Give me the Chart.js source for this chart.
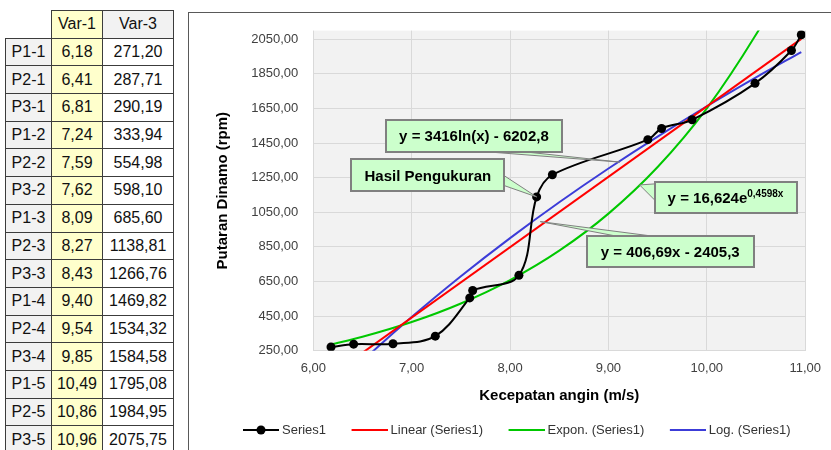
<!DOCTYPE html>
<html>
<head>
<meta charset="utf-8">
<script src="https://cdn.jsdelivr.net/npm/chart.js@4.4.0/dist/chart.umd.min.js"></script>
<style>
  html, body { margin: 0; padding: 0; background: #fff; overflow: hidden; }
  body { width: 831px; height: 450px; position: relative; font-family: "Liberation Sans", Arial, sans-serif; }
  #data-table { position: absolute; left: 5px; top: 10px; border-collapse: collapse; table-layout: fixed; width: 168px; font-size: 16px; color: #111; }
  #data-table th, #data-table td { border: 1px solid #3c3c3c; padding: 0; text-align: center; font-weight: normal; white-space: nowrap; }
  #data-table tr { height: 27.7px; }
  #data-table th.corner { border: none; background: #fff; }
  #data-table .lbl { background: #f2f2f2; }
  #data-table .v1 { background: #ffffcc; }
  #data-table .v3 { background: #fff; }
  #data-table th.v3 { background: #f2f2f2; }
  #chart-box { position: absolute; left: 188px; top: 12px; width: 700px; height: 500px; border: 1px solid #595959; }
  #chart-box canvas { position: absolute; left: 0; top: 0; }
</style>
</head>
<body>
<table id="data-table">
  <colgroup><col style="width:46px"><col style="width:51px"><col style="width:71px"></colgroup>
  <thead><tr><th class="corner"></th><th class="v1">Var-1</th><th class="v3">Var-3</th></tr></thead>
  <tbody id="rows"></tbody>
</table>
<div id="chart-box"><canvas id="chart" width="642" height="437"></canvas></div>
<script>
// measured points (table + Series1)
var rowLabels = ['P1-1', 'P2-1', 'P3-1', 'P1-2', 'P2-2', 'P3-2', 'P1-3', 'P2-3', 'P3-3', 'P1-4', 'P2-4', 'P3-4', 'P1-5', 'P2-5', 'P3-5'];
var windSpeed = [6.18, 6.41, 6.81, 7.24, 7.59, 7.62, 8.09, 8.27, 8.43, 9.40, 9.54, 9.85, 10.49, 10.86, 10.96];
var rpm = [271.20, 287.71, 290.19, 333.94, 554.98, 598.10, 685.60, 1138.81, 1266.76, 1469.82, 1534.32, 1584.58, 1795.08, 1984.95, 2075.75];

// trendlines
var linearX = [6.18, 10.96];
var linearY = [108.0, 2052.0];
var exponX = [6.18, 6.5, 7, 7.5, 8, 8.5, 9, 9.5, 10, 10.5, 10.7, 10.96];
var exponY = [285.0, 330.2, 415.5, 522.9, 658.0, 828.1, 1042.2, 1311.5, 1650.5, 2077.1, 2277.2, 2566.4];
var logX = [6.18, 6.5, 7, 7.5, 8, 8.5, 9, 9.5, 10, 10.5, 10.96];
var logY = [18.8, 191.3, 444.4, 680.1, 900.6, 1107.7, 1302.9, 1487.6, 1662.8, 1829.5, 1976.0];

var xTicks = [6, 7, 8, 9, 10, 11];
var yTicks = [250, 450, 650, 850, 1050, 1250, 1450, 1650, 1850, 2050];

var FONT = '"Liberation Sans", Arial, sans-serif';

function fmt(v) {
  return Number(v).toFixed(2).replace('.', ',');
}

function points(xs, ys) {
  return xs.map(function(x, i) { return {x: x, y: ys[i]}; });
}

// fill the table
var tbody = document.getElementById('rows');
rowLabels.forEach(function(lbl, i) {
  var tr = document.createElement('tr');
  tr.innerHTML = '<td class="lbl">' + lbl + '</td><td class="v1">' + fmt(windSpeed[i]) +
                 '</td><td class="v3">' + fmt(rpm[i]) + '</td>';
  tbody.appendChild(tr);
});

// legend symbols: short line (dot for the measured series), drawn off-centre
// so the gap between items sits inside the legend box
function legendIcon(color, withDot) {
  var c = document.createElement('canvas');
  c.width = 55; c.height = 10;
  var g = c.getContext('2d');
  g.strokeStyle = color; g.lineWidth = 2;
  g.beginPath(); g.moveTo(19, 5); g.lineTo(55, 5); g.stroke();
  if (withDot) {
    g.fillStyle = color;
    g.beginPath(); g.arc(37, 5, 4.5, 0, Math.PI * 2); g.fill();
  }
  return c;
}

// callout boxes (centre in data units, wedge base as offsets from centre)
var callouts = [
  {text: 'y = 3416ln(x) - 6202,8', x: 7.633, y: 1491, w: 176, h: 32, tip: [9.115, 1340], base: [[15, 16], [52, 16]]},
  {text: 'Hasil Pengukuran', x: 7.164, y: 1263, w: 153, h: 32, tip: [8.27, 1138.81], base: [[76, 0], [76, 10]]},
  {text: 'y = 16,624e', sup: '0,4598x', x: 10.19, y: 1133, w: 142, h: 31, tip: [9.317, 1208], base: [[-71, -14], [-71, 2]]},
  {text: 'y = 406,69x - 2405,3', x: 9.628, y: 823.5, w: 167, h: 31, tip: [8.307, 996], base: [[-52, -15], [-15, -15]]}
];

var plotBackground = {
  id: 'plotBackground',
  beforeDraw: function(chart) {
    var a = chart.chartArea, ctx = chart.ctx;
    ctx.save();
    ctx.fillStyle = '#f2f2f2';
    ctx.fillRect(a.left, a.top, a.right - a.left, a.bottom - a.top);
    ctx.restore();
  }
};

var calloutPlugin = {
  id: 'callouts',
  afterDatasetsDraw: function(chart) {
    var ctx = chart.ctx, xs = chart.scales.x, ys = chart.scales.y;
    callouts.forEach(function(c) {
      var cx = xs.getPixelForValue(c.x), cy = ys.getPixelForValue(c.y);
      var tx = xs.getPixelForValue(c.tip[0]), ty = ys.getPixelForValue(c.tip[1]);
      ctx.save();
      // wedge
      ctx.beginPath();
      ctx.moveTo(cx + c.base[0][0], cy + c.base[0][1]);
      ctx.lineTo(tx, ty);
      ctx.lineTo(cx + c.base[1][0], cy + c.base[1][1]);
      ctx.closePath();
      ctx.fillStyle = '#ccffcc';
      ctx.fill();
      ctx.strokeStyle = '#808080';
      ctx.lineWidth = 1;
      ctx.stroke();
      // box
      var l = Math.round(cx - c.w / 2), t = Math.round(cy - c.h / 2);
      ctx.fillStyle = '#ccffcc';
      ctx.fillRect(l, t, c.w, c.h);
      ctx.lineWidth = 2;
      ctx.strokeRect(l, t, c.w, c.h);
      // text
      ctx.fillStyle = '#000';
      ctx.textBaseline = 'middle';
      ctx.font = 'bold 15px ' + FONT;
      if (c.sup) {
        var w1 = ctx.measureText(c.text).width;
        ctx.font = 'bold 10px ' + FONT;
        var w2 = ctx.measureText(c.sup).width;
        var sx = cx - (w1 + w2) / 2;
        ctx.textAlign = 'left';
        ctx.font = 'bold 15px ' + FONT;
        ctx.fillText(c.text, sx, cy + 1);
        ctx.font = 'bold 10px ' + FONT;
        ctx.fillText(c.sup, sx + w1, cy - 4);
      } else {
        ctx.textAlign = 'center';
        ctx.fillText(c.text, cx, cy + 1);
      }
      ctx.restore();
    });
  }
};

var trendStyle = {showLine: true, borderWidth: 2, pointRadius: 0, pointHoverRadius: 0, fill: false};

var datasets = [
  {label: 'Series1', data: points(windSpeed, rpm), borderColor: '#000', backgroundColor: '#000',
   borderWidth: 2, pointRadius: 4.5, pointHoverRadius: 4.5, pointBorderWidth: 0, tension: 0.35, fill: false},
  Object.assign({label: 'Linear (Series1)', data: points(linearX, linearY), borderColor: '#ff0000'}, trendStyle),
  Object.assign({label: 'Expon. (Series1)', data: points(exponX, exponY), borderColor: '#00c800', cubicInterpolationMode: 'monotone'}, trendStyle),
  Object.assign({label: 'Log. (Series1)', data: points(logX, logY), borderColor: '#3c3cd8', cubicInterpolationMode: 'monotone'}, trendStyle)
];

var legendIcons = datasets.map(function(ds, i) { return legendIcon(ds.borderColor, i === 0); });

new Chart(document.getElementById('chart').getContext('2d'), {
  type: 'line',
  data: {datasets: datasets},
  options: {
    responsive: false,
    animation: false,
    events: [],
    layout: {padding: {left: 20.7, right: 22.7, top: 17.6, bottom: 3.5}},
    elements: {line: {capBezierPoints: false}},
    plugins: {
      tooltip: {enabled: false},
      legend: {
        position: 'bottom',
        labels: {
          usePointStyle: true,
          pointStyleWidth: 48,
          padding: 10,
          color: '#333',
          font: {size: 13, family: FONT},
          generateLabels: function(chart) {
            return chart.data.datasets.map(function(ds, i) {
              return {text: ds.label, pointStyle: legendIcons[i], datasetIndex: i, fontColor: '#333',
                      lineWidth: 0, strokeStyle: 'rgba(0,0,0,0)', fillStyle: ds.borderColor, hidden: false};
            });
          }
        }
      }
    },
    scales: {
      x: {
        type: 'linear', min: 6, max: 11,
        afterBuildTicks: function(s) { s.ticks = xTicks.map(function(v) { return {value: v}; }); },
        afterFit: function(s) { s.height = 62.8; },
        grid: {color: '#d9d9d9', drawTicks: false},
        border: {display: false},
        ticks: {padding: 10, color: '#404040', font: {size: 13, family: FONT}, maxRotation: 0,
                callback: function(v) { return fmt(v); }},
        title: {display: true, text: 'Kecepatan angin (m/s)', color: '#000',
                font: {size: 15, weight: 'bold', family: FONT}, padding: {top: 0, bottom: 8.5}}
      },
      y: {
        min: 250, max: 2100,
        afterBuildTicks: function(s) { s.ticks = yTicks.map(function(v) { return {value: v}; }); },
        afterFit: function(s) {
          s.width = 103.6;
          // tick padding should not push the plot area down
          s.paddingTop = 0;
          s.paddingBottom = 0;
        },
        grid: {color: '#d9d9d9', drawTicks: false},
        border: {display: false},
        ticks: {padding: 15, color: '#404040', font: {size: 13, family: FONT},
                callback: function(v) { return fmt(v); }},
        title: {display: true, text: 'Putaran Dinamo (rpm)', color: '#000',
                font: {size: 15, weight: 'bold', family: FONT}, padding: {top: 4.3, bottom: 0}}
      }
    }
  },
  plugins: [plotBackground, calloutPlugin]
});
</script>
</body>
</html>
